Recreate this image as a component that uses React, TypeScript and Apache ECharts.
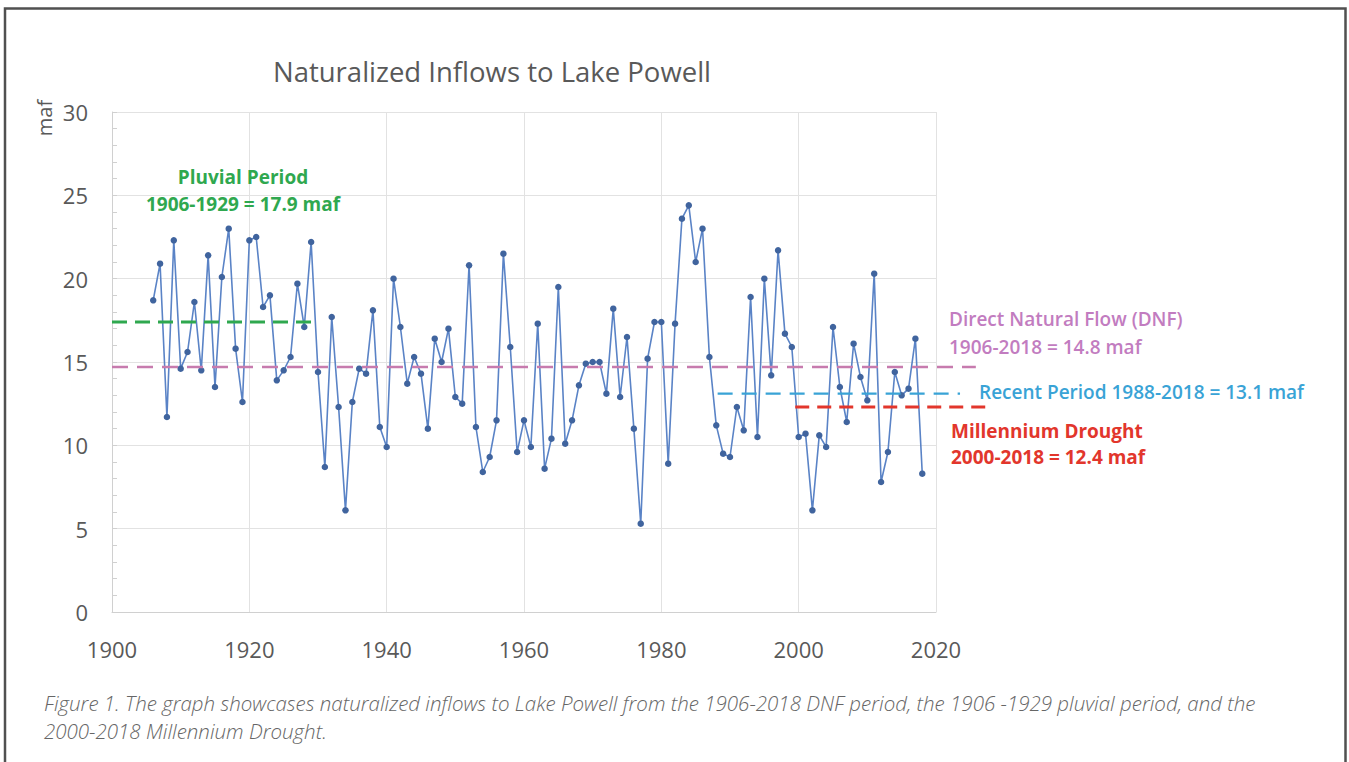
import React, { useEffect, useRef } from "react";
import * as echarts from "echarts";

// ---- Data ----
const firstYear = 1906;
const inflows = [
  18.7, 20.9, 11.7, 22.3, 14.6, 15.6, 18.6, 14.5, 21.4, 13.5, // 1906-1915
  20.1, 23.0, 15.8, 12.6, 22.3, 22.5, 18.3, 19.0, 13.9, 14.5, // 1916-1925
  15.3, 19.7, 17.1, 22.2, 14.4, 8.7, 17.7, 12.3, 6.1, 12.6,   // 1926-1935
  14.6, 14.3, 18.1, 11.1, 9.9, 20.0, 17.1, 13.7, 15.3, 14.3,  // 1936-1945
  11.0, 16.4, 15.0, 17.0, 12.9, 12.5, 20.8, 11.1, 8.4, 9.3,   // 1946-1955
  11.5, 21.5, 15.9, 9.6, 11.5, 9.9, 17.3, 8.6, 10.4, 19.5,    // 1956-1965
  10.1, 11.5, 13.6, 14.9, 15.0, 15.0, 13.1, 18.2, 12.9, 16.5, // 1966-1975
  11.0, 5.3, 15.2, 17.4, 17.4, 8.9, 17.3, 23.6, 24.4, 21.0,   // 1976-1985
  23.0, 15.3, 11.2, 9.5, 9.3, 12.3, 10.9, 18.9, 10.5, 20.0,   // 1986-1995
  14.2, 21.7, 16.7, 15.9, 10.5, 10.7, 6.1, 10.6, 9.9, 17.1,   // 1996-2005
  13.5, 11.4, 16.1, 14.1, 12.7, 20.3, 7.8, 9.6, 14.4, 13.0,   // 2006-2015
  13.4, 16.4, 8.3,                                            // 2016-2018
];
const years = inflows.map((_, i) => firstYear + i);

// reference (average) lines as drawn: [x0, x1] extents and level
const pluvialLine = [[1900, 17.4], [1930, 17.4]];
const dnfLine = [[1900, 14.7], [2025.8, 14.7]];
const recentLine = [[1988.2, 13.1], [2023.5, 13.1]];
const droughtLine = [[1999.5, 12.3], [2027.3, 12.3]];

const title = "Naturalized Inflows to Lake Powell";
const yName = "maf";
const pluvialText = ["Pluvial Period", "1906-1929 = 17.9 maf"];
const dnfText = ["Direct Natural Flow (DNF)", "1906-2018 = 14.8 maf"];
const recentText = "Recent Period 1988-2018 = 13.1 maf";
const droughtText = ["Millennium Drought", "2000-2018 = 12.4 maf"];
const caption = [
  "Figure 1. The graph showcases naturalized inflows to Lake Powell from the 1906-2018 DNF period, the 1906 -1929 pluvial period, and the",
  "2000-2018 Millennium Drought.",
];

const GREEN = "#2FA84F";
const PINK_LINE = "#C77BAE";
const PINK_TEXT = "#C27CC0";
const BLUE = "#39A3D6";
const RED = "#E2362C";
const AXIS_TEXT = "#595959";
const GRID = "#E2E2E2";

const annFont = "'Open Sans', Lato, sans-serif";

export default function App() {
  const ref = useRef<HTMLDivElement>(null);

  useEffect(() => {
    const chart = echarts.init(ref.current!, null, { renderer: "svg" });
    const refSeries = (data: number[][], color: string, width: number, dash: number[]) => ({
      type: "line",
      xAxisIndex: 1,
      yAxisIndex: 1,
      data,
      symbol: "none",
      silent: true,
      z: 5,
      lineStyle: { color, width, type: dash },
    });
    const txt = (
      text: string,
      x: number,
      y: number,
      fill: string,
      font: string,
      align = "left"
    ) => ({
      type: "text",
      x,
      y,
      silent: true,
      z: 10,
      style: { text, fill, font, align, verticalAlign: "middle" },
    });

    chart.setOption({
      animation: false,
      backgroundColor: "#ffffff",
      grid: [
        { left: 112, top: 112, width: 824, height: 500, containLabel: false },
        { left: 112, top: 112, width: (824 * 128) / 120, height: 500, containLabel: false },
      ],
      xAxis: [
        {
          type: "value",
          gridIndex: 0,
          min: 1900,
          max: 2020,
          interval: 20,
          axisLine: { show: true, lineStyle: { color: "#D0D0D0", width: 1 } },
          axisTick: { show: false },
          splitLine: { show: true, lineStyle: { color: GRID, width: 1 } },
          axisLabel: {
            color: AXIS_TEXT,
            fontFamily: "'Open Sans', sans-serif",
            fontSize: 22,
            margin: 26,
            formatter: (v: number) => String(v),
          },
        },
        { type: "value", gridIndex: 1, min: 1900, max: 2028, show: false },
      ],
      yAxis: [
        {
          type: "value",
          gridIndex: 0,
          min: 0,
          max: 30,
          interval: 5,
          axisLine: { show: true, lineStyle: { color: "#D0D0D0", width: 1 } },
          axisTick: { show: true, inside: true, length: 5, lineStyle: { color: "#D0D0D0" } },
          minorTick: { show: true, splitNumber: 5, length: 5, lineStyle: { color: "#D0D0D0" } },
          splitLine: { show: true, lineStyle: { color: GRID, width: 1 } },
          axisLabel: {
            color: AXIS_TEXT,
            fontFamily: "'Open Sans', sans-serif",
            fontSize: 22,
            margin: 24,
          },
        },
        { type: "value", gridIndex: 1, min: 0, max: 30, show: false },
      ],
      series: [
        {
          type: "line",
          xAxisIndex: 0,
          yAxisIndex: 0,
          data: years.map((y, i) => [y, inflows[i]]),
          symbol: "circle",
          symbolSize: 6.5,
          showAllSymbol: true,
          z: 3,
          lineStyle: { color: "#5A83C6", width: 1.6 },
          itemStyle: { color: "#40649E" },
        },
        refSeries(pluvialLine, GREEN, 3, [15, 8]),
        refSeries(dnfLine, PINK_LINE, 2.6, [16, 9]),
        refSeries(recentLine, BLUE, 2.4, [15, 9]),
        refSeries(droughtLine, RED, 3, [14, 8]),
      ],
      graphic: [
        {
          type: "rect",
          silent: true,
          z: 0,
          shape: { x: 5, y: 8.5, width: 1340.5, height: 800 },
          style: { fill: "transparent", stroke: "#505050", lineWidth: 2.5 },
        },
        txt(title, 492, 71, "#595959", "27.5px 'Open Sans', sans-serif", "center"),
        {
          type: "text",
          x: 44,
          y: 118,
          rotation: Math.PI / 2,
          silent: true,
          style: {
            text: yName,
            fill: AXIS_TEXT,
            font: "20px 'Open Sans', sans-serif",
            align: "center",
            verticalAlign: "middle",
          },
        },
        txt(pluvialText[0], 243, 177, GREEN, `bold 19px ${annFont}`, "center"),
        txt(pluvialText[1], 243, 204, GREEN, `bold 19px ${annFont}`, "center"),
        txt(dnfText[0], 949, 319, PINK_TEXT, `600 19px ${annFont}`),
        txt(dnfText[1], 949, 347, PINK_TEXT, `600 19px ${annFont}`),
        txt(recentText, 979, 392, BLUE, `600 19px ${annFont}`),
        txt(droughtText[0], 951, 431, RED, `bold 19px ${annFont}`),
        txt(droughtText[1], 951, 457, RED, `bold 19px ${annFont}`),
        txt(caption[0], 44, 702.5, "#666666", "italic 300 20.5px 'Open Sans', sans-serif"),
        txt(caption[1], 44, 731, "#666666", "italic 300 20.5px 'Open Sans', sans-serif"),
      ],
    });
    return () => chart.dispose();
  }, []);

  return (
    <div
      ref={ref}
      style={{ position: "absolute", left: 0, top: 0, width: 1349, height: 762, background: "#fff" }}
    />
  );
}
